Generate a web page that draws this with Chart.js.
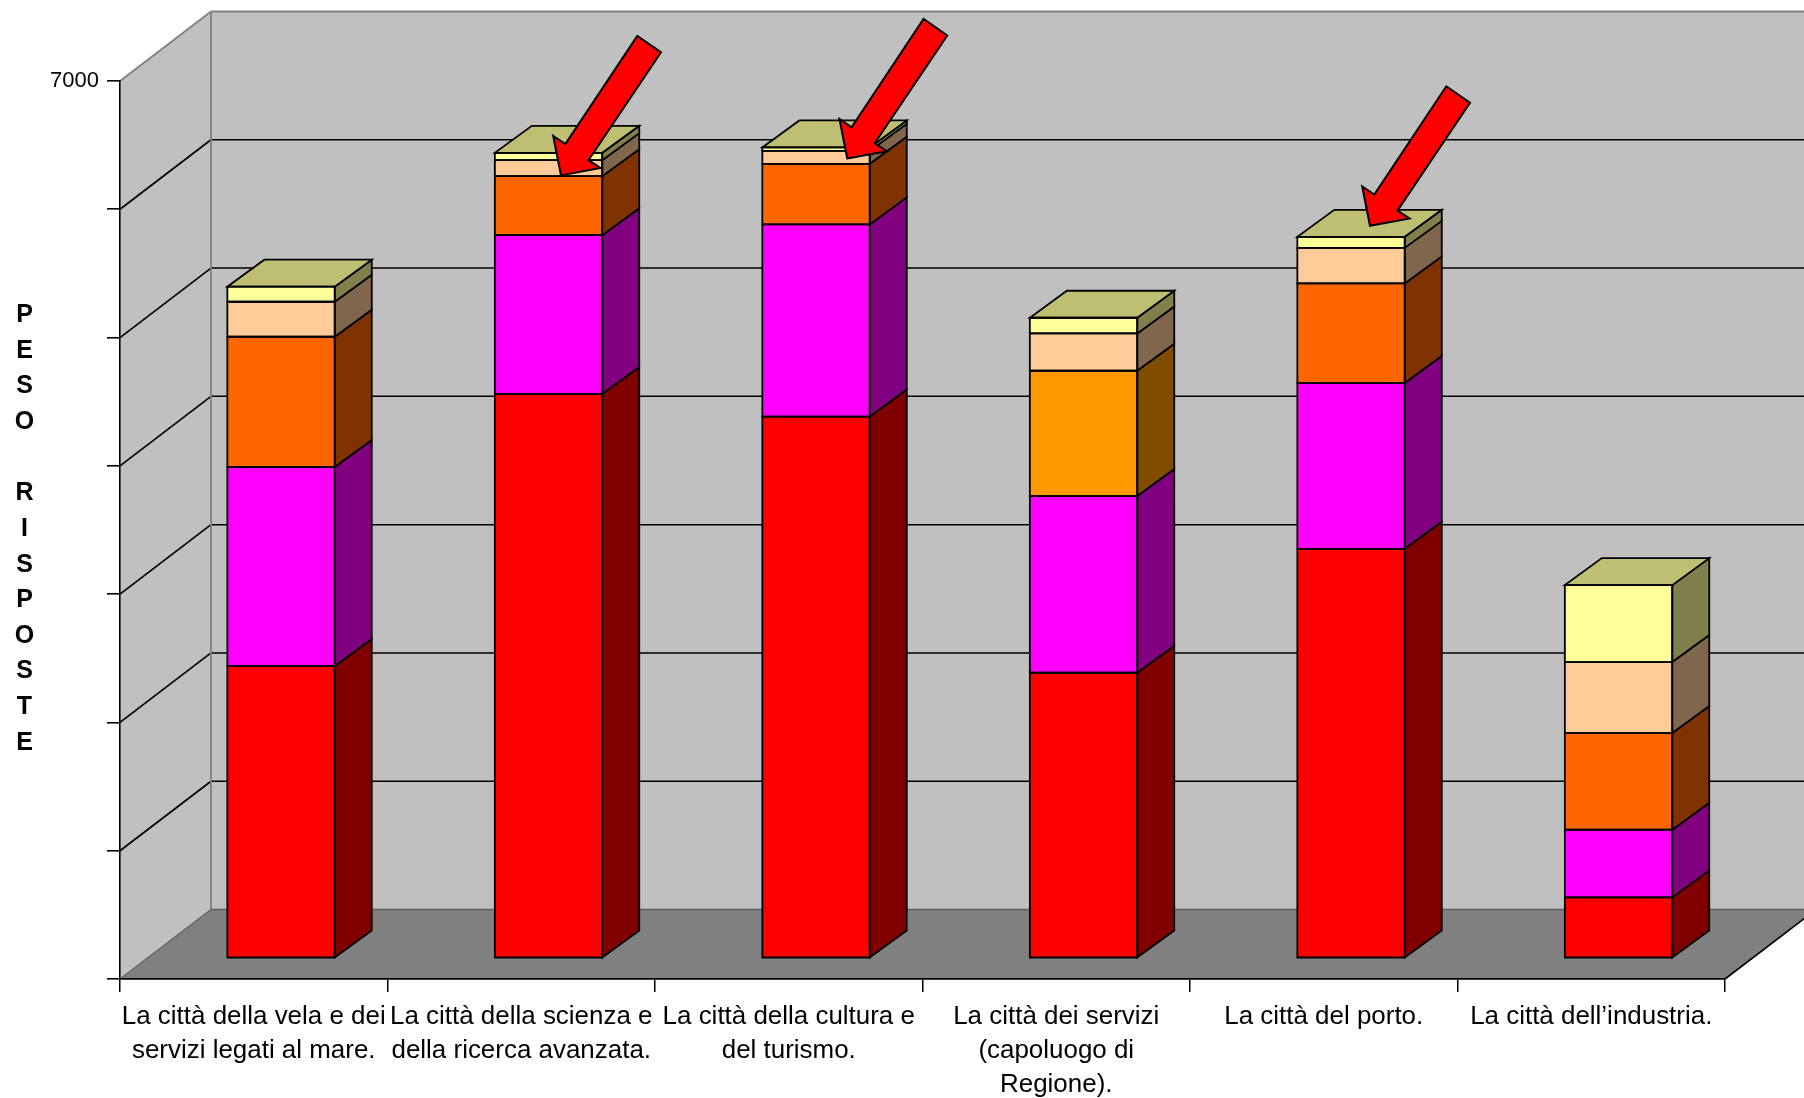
<!DOCTYPE html>
<html>
<head>
<meta charset="utf-8">
<style>html,body{margin:0;padding:0;background:#fff}canvas{display:block}</style>
<script src="https://cdn.jsdelivr.net/npm/chart.js@4"></script>
</head>
<body>
<canvas id="c" width="1804" height="1098" style="width:1804px;height:1098px"></canvas>
<script>
const categories = [
  ["La città della vela e dei", "servizi legati al mare."],
  ["La città della scienza e", "della ricerca avanzata."],
  ["La città della cultura e", "del turismo."],
  ["La città dei servizi", "(capoluogo di", "Regione)."],
  ["La città del porto."],
  ["La città dell’industria."]
];
const redValues     = [2278, 4398, 4223, 2226, 3192, 475];
const magentaValues = [1551, 1239, 1498, 1377, 1292, 527];
const orangeValues  = [1016, 460, 472, 977, 777, 754];
const peachValues   = [273, 125, 101, 291, 277, 553];
const yellowValues  = [117, 57, 27, 122, 86, 600];
const orangeColors  = ["#FF6600", "#FF6600", "#FF6600", "#FF9900", "#FF6600", "#FF6600"];
const arrowCategories = [1, 2, 4];
const arrowTipValues  = [6103, 6235, 5710];
const yAxisTitle = "PESO RISPOSTE";
const yMax = 7000, yStep = 1000;

// Oblique projection of the 3-D chart
const DEPTH = {x: 91, y: 69.5};        // floor front edge to back wall
const BAR_SHIFT = {x: 27.3, y: 20.7};  // front plane of the bars within the floor
const BAR_DEPTH = {x: 37, y: 27};      // depth of a single bar
const ARROW_TIP_SHIFT = [12.45, 31.2, 18.95];
const ARROW_SHAPE = [[0,0],[39.5,-7.3],[27.5,-15.2],[100,-123],[76.3,-139.5],[4.3,-31.2],[-7.8,-39.4]];

function shade(hex, f) {
  const n = parseInt(hex.slice(1), 16);
  const c = [n >> 16 & 255, n >> 8 & 255, n & 255].map(v => Math.round(v * f));
  return `rgb(${c[0]},${c[1]},${c[2]})`;
}
function poly(ctx, pts, fill, stroke, lw) {
  ctx.beginPath();
  pts.forEach((p, i) => i ? ctx.lineTo(p[0], p[1]) : ctx.moveTo(p[0], p[1]));
  ctx.closePath();
  if (fill) { ctx.fillStyle = fill; ctx.fill(); }
  if (stroke) { ctx.strokeStyle = stroke; ctx.lineWidth = lw; ctx.lineJoin = 'miter'; ctx.stroke(); }
}
function seg(ctx, x1, y1, x2, y2, color, lw) {
  ctx.beginPath(); ctx.moveTo(x1, y1); ctx.lineTo(x2, y2);
  ctx.strokeStyle = color; ctx.lineWidth = lw; ctx.stroke();
}

const walls3d = {
  id: 'walls3d',
  beforeDraw(chart) {
    const {ctx, chartArea: a, scales: {y}} = chart;
    const y0 = y.getPixelForValue(0), yT = y.getPixelForValue(yMax);
    const bx = a.left + DEPTH.x, rx = a.right + DEPTH.x;
    ctx.save();
    poly(ctx, [[bx, yT - DEPTH.y], [rx, yT - DEPTH.y], [rx, y0 - DEPTH.y], [bx, y0 - DEPTH.y]], '#C0C0C0');
    poly(ctx, [[a.left, yT], [bx, yT - DEPTH.y], [bx, y0 - DEPTH.y], [a.left, y0]], '#C0C0C0');
    poly(ctx, [[a.left, y0], [a.right, y0], [rx, y0 - DEPTH.y], [bx, y0 - DEPTH.y]], '#808080');
    for (let v = yStep; v < yMax; v += yStep) {
      const p = y.getPixelForValue(v);
      seg(ctx, a.left, p, bx, p - DEPTH.y, '#000', 1.7);
      seg(ctx, bx, p - DEPTH.y, rx, p - DEPTH.y, '#000', 1.5);
    }
    seg(ctx, a.left, yT, bx, yT - DEPTH.y, '#808080', 1.8);
    seg(ctx, bx, yT - DEPTH.y, rx, yT - DEPTH.y, '#808080', 2);
    seg(ctx, bx, yT - DEPTH.y, bx, y0 - DEPTH.y, '#808080', 1.8);
    seg(ctx, a.left, y0, bx, y0 - DEPTH.y, '#666', 1.5);
    seg(ctx, bx, y0 - DEPTH.y, rx, y0 - DEPTH.y, '#606060', 1.3);
    seg(ctx, a.right, y0, rx, y0 - DEPTH.y, '#000', 1.6);
    ctx.restore();
  },
  beforeDatasetsDraw(chart) {
    chart.ctx.save();
    chart.ctx.translate(BAR_SHIFT.x, -BAR_SHIFT.y);
  },
  afterDatasetsDraw(chart) {
    const ctx = chart.ctx, n = chart.data.datasets.length;
    const dx = BAR_DEPTH.x, dy = BAR_DEPTH.y;
    chart.data.datasets.forEach((ds, di) => {
      chart.getDatasetMeta(di).data.forEach((el, i) => {
        const {x, y, base, width} = el.getProps(['x', 'y', 'base', 'width'], true);
        const L = x - width / 2, R = x + width / 2;
        const col = Array.isArray(ds.backgroundColor) ? ds.backgroundColor[i] : ds.backgroundColor;
        poly(ctx, [[R, y], [R + dx, y - dy], [R + dx, base - dy], [R, base]], shade(col, 0.5), '#000', 1.8);
        if (di === n - 1) {
          poly(ctx, [[L, y], [R, y], [R + dx, y - dy], [L + dx, y - dy]], shade(col, 0.75), '#000', 1.8);
        }
        poly(ctx, [[L, y], [R, y], [R, base], [L, base]], null, '#000', 1.8);
      });
    });
    ctx.restore();
  },
  afterDraw(chart) {
    const {ctx, scales: {x, y}} = chart;
    ctx.save();
    // arrows pointing at the three highlighted bars
    arrowCategories.forEach((c, i) => {
      const tx = x.getPixelForValue(c) + BAR_SHIFT.x + ARROW_TIP_SHIFT[i];
      const ty = y.getPixelForValue(arrowTipValues[i]) - BAR_SHIFT.y;
      poly(ctx, ARROW_SHAPE.map(p => [tx + p[0], ty + p[1]]), '#FF0000', '#000', 2);
    });
    // stacked axis title
    ctx.fillStyle = '#000';
    ctx.font = 'bold 25px "Liberation Sans", Arial, sans-serif';
    ctx.textAlign = 'center';
    ctx.textBaseline = 'middle';
    [...yAxisTitle].forEach((ch, i) => {
      if (ch !== ' ') ctx.fillText(ch, 24.5, 315 + i * 35.66);
    });
    ctx.restore();
  }
};

const ds = (label, data, color) => ({label, data, backgroundColor: color, borderWidth: 0, clip: false});

new Chart(document.getElementById('c'), {
  type: 'bar',
  data: {
    labels: categories,
    datasets: [
      ds('Serie 1', redValues, '#FF0000'),
      ds('Serie 2', magentaValues, '#FF00FF'),
      ds('Serie 3', orangeValues, orangeColors),
      ds('Serie 4', peachValues, '#FFCC99'),
      ds('Serie 5', yellowValues, '#FFFF99')
    ]
  },
  options: {
    responsive: false,
    animation: false,
    devicePixelRatio: 1,
    layout: {padding: {top: 81, right: 79, left: 0, bottom: 0}},
    datasets: {bar: {barPercentage: 0.4015, categoryPercentage: 1}},
    plugins: {legend: {display: false}, title: {display: false}, tooltip: {enabled: false}},
    scales: {
      x: {
        stacked: true,
        afterFit(s) { s.height = 119; },
        grid: {drawOnChartArea: false, drawTicks: true, tickLength: 13, color: '#000', lineWidth: 1.5, offset: true},
        border: {display: true, color: '#000', width: 1.8},
        ticks: {
          autoSkip: false, maxRotation: 0, minRotation: 0, color: '#000', padding: 8,
          font: {family: '"Liberation Sans", Arial, sans-serif', size: 25.95, lineHeight: 1.307}
        }
      },
      y: {
        stacked: true, min: 0, max: yMax,
        afterFit(s) { s.width = 120; },
        grid: {drawOnChartArea: false, drawTicks: true, tickLength: 13, color: '#000', lineWidth: 1.6},
        border: {display: true, color: '#000', width: 1.6},
        ticks: {
          stepSize: yStep, color: '#000', padding: 8,
          callback: v => v === yMax ? String(yMax) : '',
          font: {family: '"Liberation Sans", Arial, sans-serif', size: 22}
        }
      }
    }
  },
  plugins: [walls3d]
});
</script>
</body>
</html>
